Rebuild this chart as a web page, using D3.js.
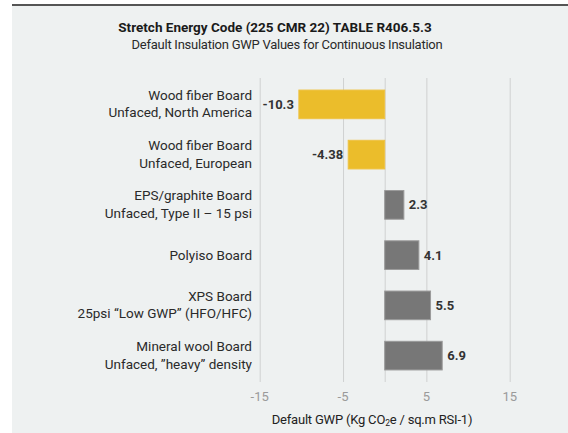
<!DOCTYPE html>
<html>
<head>
<meta charset="utf-8">
<script src="https://cdn.jsdelivr.net/npm/d3@7"></script>
<style>
  body { margin: 0; background: #fff; }
  svg { display: block; font-family: Roboto, "Noto Sans", sans-serif; }
</style>
</head>
<body>
<div id="chart"></div>
<script>
// chart data
const line1 = ["Wood fiber Board", "Wood fiber Board", "EPS/graphite Board", "Polyiso Board", "XPS Board", "Mineral wool Board"];
const line2 = ["Unfaced, North America", "Unfaced, European", "Unfaced, Type II \u2013 15 psi", "", "25psi \u201cLow GWP\u201d (HFO/HFC)", "Unfaced, \u201dheavy\u201d density"];
const values = [-10.3, -4.38, 2.3, 4.1, 5.5, 6.9];
const valueLabels = ["-10.3", "-4.38", "2.3", "4.1", "5.5", "6.9"];
const ticks = [-15, -5, 5, 15];

const W = 568, H = 433;
const svg = d3.select("#chart")
    .append("svg")
    .attr("width", W)
    .attr("height", H);

// panel background + top rule
svg.append("rect")
    .attr("x", 12).attr("y", 5)
    .attr("width", W - 12).attr("height", H - 5)
    .attr("fill", "#eef1f1");
svg.append("rect")
    .attr("x", 12).attr("y", 4)
    .attr("width", W - 12).attr("height", 2)
    .attr("fill", "#555");

// titles
svg.append("text")
    .attr("x", 275).attr("y", 32)
    .attr("text-anchor", "middle")
    .attr("font-size", 13.5)
    .attr("font-weight", "bold")
    .attr("fill", "#1a1a1a")
    .text("Stretch Energy Code (225 CMR 22) TABLE R406.5.3");
svg.append("text")
    .attr("x", 287).attr("y", 49)
    .attr("text-anchor", "middle")
    .attr("font-size", 13)
    .attr("letter-spacing", -0.25)
    .attr("fill", "#2a2a2a")
    .text("Default Insulation GWP Values for Continuous Insulation");

const x = d3.scaleLinear()
    .domain([-15, 15])
    .range([259.7, 509.7]);

const y = d3.scaleBand()
    .domain(d3.range(values.length))
    .range([79, 381])
    .paddingInner(0.43)
    .paddingOuter(0.22);

// grid lines
svg.append("g")
    .selectAll("line")
    .data(ticks.concat([0]))
    .enter()
    .append("line")
    .attr("x1", d => x(d) + 0.5)
    .attr("x2", d => x(d) + 0.5)
    .attr("y1", 78)
    .attr("y2", 382)
    .attr("stroke", "#cfd1d1")
    .attr("stroke-width", 1);

// tick labels
svg.append("g")
    .selectAll("text")
    .data(ticks)
    .enter()
    .append("text")
    .attr("x", d => x(d))
    .attr("y", 401)
    .attr("text-anchor", "middle")
    .attr("font-size", 13)
    .attr("fill", "#9a9a9a")
    .text(d => d);

// axis title
const axt = svg.append("text")
    .attr("x", 372).attr("y", 424)
    .attr("text-anchor", "middle")
    .attr("font-size", 13)
    .attr("fill", "#222")
    .attr("letter-spacing", -0.2);
axt.append("tspan").text("Default GWP (Kg CO");
axt.append("tspan").attr("font-size", 8.5).attr("dy", 2).text("2");
axt.append("tspan").attr("dy", -2).text("e / sq.m RSI-1)");

// bars
svg.append("g")
    .selectAll("rect")
    .data(values)
    .enter()
    .append("rect")
    .attr("x", d => x(Math.min(0, d)))
    .attr("y", (d, i) => y(i))
    .attr("width", d => Math.abs(x(d) - x(0)))
    .attr("height", y.bandwidth())
    .attr("fill", d => d < 0 ? "#ebbd2b" : "#777777")
    .attr("stroke", d => d < 0 ? "#eec244" : "#9a9a9a")
    .attr("stroke-width", 1);

// value labels
svg.append("g")
    .selectAll("text")
    .data(values)
    .enter()
    .append("text")
    .attr("x", d => d < 0 ? x(d) - 5 : x(d) + 5)
    .attr("y", (d, i) => y(i) + y.bandwidth() / 2 + 4.5)
    .attr("text-anchor", d => d < 0 ? "end" : "start")
    .attr("font-size", 13)
    .attr("font-weight", "bold")
    .attr("fill", "#333")
    .text((d, i) => valueLabels[i]);

// category labels
const cat = svg.append("g")
    .selectAll("text")
    .data(values)
    .enter()
    .append("text")
    .attr("text-anchor", "end")
    .attr("font-size", 13.5)
    .attr("fill", "#2a2a2a");
cat.each(function(d, i) {
    const t = d3.select(this);
    const cy = y(i) + y.bandwidth() / 2;
    if (line2[i]) {
        t.append("tspan").attr("x", 252).attr("y", cy - 4.5).text(line1[i]);
        t.append("tspan").attr("x", 252).attr("y", cy + 13).text(line2[i]);
    } else {
        t.append("tspan").attr("x", 252).attr("y", cy + 4.5).text(line1[i]);
    }
});
</script>
</body>
</html>
